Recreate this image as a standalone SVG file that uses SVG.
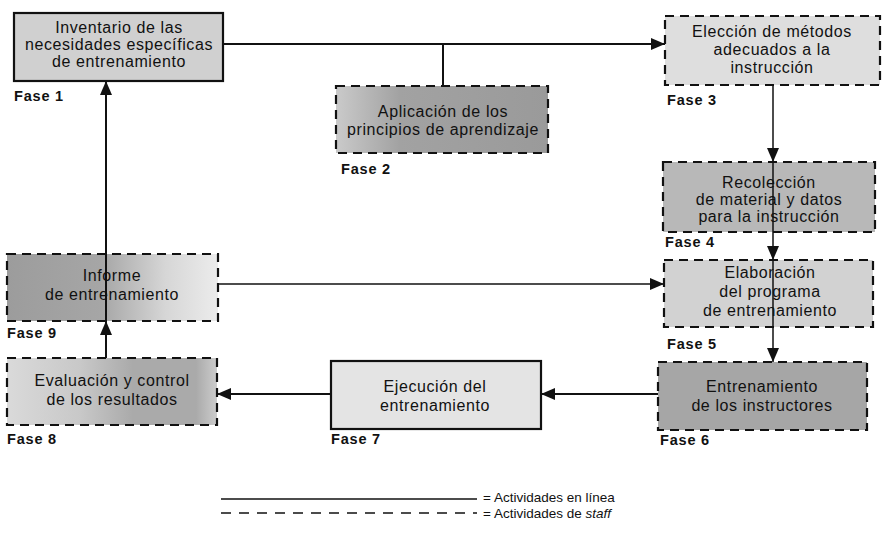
<svg xmlns="http://www.w3.org/2000/svg" width="889" height="535" viewBox="0 0 889 535">
<style>
.bg{fill:#ffffff}
.solid{stroke:#111;stroke-width:2.2}
.dash{stroke:#111;stroke-width:2.2;stroke-dasharray:9 6}
.t{font-family:"Liberation Sans",Arial,sans-serif;font-size:16px;letter-spacing:0.6px;fill:#111;text-anchor:middle}
.f{font-family:"Liberation Sans",Arial,sans-serif;font-size:14.5px;font-weight:bold;letter-spacing:0.8px;fill:#111}
.lg{font-family:"Liberation Sans",Arial,sans-serif;font-size:13.5px;fill:#111}
.c{stroke:#111;stroke-width:2;fill:none}
.c1{stroke:#111;stroke-width:1.5;fill:none}
</style>
<defs>
<marker id="ah" markerUnits="userSpaceOnUse" markerWidth="14" markerHeight="12" refX="14" refY="6" orient="auto">
<path d="M0,0 L14,6 L0,12 Z" fill="#111"/>
</marker>
<linearGradient id="g9" x1="0" y1="0" x2="1" y2="0">
<stop offset="0" stop-color="#9c9c9c"/>
<stop offset="0.45" stop-color="#a6a6a6"/>
<stop offset="0.75" stop-color="#d6d6d6"/>
<stop offset="1" stop-color="#ececec"/>
</linearGradient>
<linearGradient id="g8" x1="0" y1="0" x2="1" y2="0">
<stop offset="0" stop-color="#dadada"/>
<stop offset="0.35" stop-color="#c8c8c8"/>
<stop offset="0.6" stop-color="#aaaaaa"/>
<stop offset="0.9" stop-color="#aaaaaa"/>
<stop offset="1" stop-color="#cccccc"/>
</linearGradient>
<linearGradient id="g2" x1="0" y1="0" x2="1" y2="0">
<stop offset="0" stop-color="#cacaca"/>
<stop offset="0.3" stop-color="#a2a2a2"/>
<stop offset="1" stop-color="#9a9a9a"/>
</linearGradient>
</defs>
<rect class="bg" x="0" y="0" width="889" height="535"/>

<g id="fase1">
<rect class="solid" x="14" y="13" width="209" height="68" fill="#d0d0d0"/>
<text class="t" x="119" y="33">Inventario de las</text>
<text class="t" x="119" y="50">necesidades específicas</text>
<text class="t" x="119" y="67">de entrenamiento</text>
<text class="f" x="14" y="101">Fase 1</text>
</g>

<g id="fase2">
<rect class="dash" x="336" y="86" width="212" height="67" fill="url(#g2)"/>
<text class="t" x="443" y="117">Aplicación de los</text>
<text class="t" x="443" y="135">principios de aprendizaje</text>
<text class="f" x="341" y="174">Fase 2</text>
</g>

<g id="fase3">
<rect class="dash" x="665" y="16" width="215" height="69" fill="#dedede"/>
<text class="t" x="772" y="37">Elección de métodos</text>
<text class="t" x="772" y="55">adecuados a la</text>
<text class="t" x="772" y="73">instrucción</text>
<text class="f" x="667" y="105">Fase 3</text>
</g>

<g id="fase4">
<rect class="dash" x="663" y="162" width="212" height="70" fill="#b8b8b8"/>
<text class="t" x="769" y="188">Recolección</text>
<text class="t" x="769" y="205">de material y datos</text>
<text class="t" x="769" y="222">para la instrucción</text>
<text class="f" x="665" y="247">Fase 4</text>
</g>

<g id="fase5">
<rect class="dash" x="664" y="260" width="209" height="67" fill="#d2d2d2"/>
<text class="t" x="770" y="278">Elaboración</text>
<text class="t" x="770" y="297">del programa</text>
<text class="t" x="770" y="316">de entrenamiento</text>
<text class="f" x="667" y="349">Fase 5</text>
</g>

<g id="fase6">
<rect class="dash" x="658" y="362" width="209" height="68" fill="#a6a6a6"/>
<text class="t" x="762" y="392">Entrenamiento</text>
<text class="t" x="762" y="411">de los instructores</text>
<text class="f" x="660" y="445">Fase 6</text>
</g>

<g id="fase7">
<rect class="solid" x="331" y="361" width="210" height="68" fill="#e4e4e4"/>
<text class="t" x="435" y="392">Ejecución del</text>
<text class="t" x="435" y="411">entrenamiento</text>
<text class="f" x="331" y="444">Fase 7</text>
</g>

<g id="fase8">
<rect class="dash" x="7" y="358" width="210" height="67" fill="url(#g8)"/>
<text class="t" x="112" y="386">Evaluación y control</text>
<text class="t" x="112" y="405">de los resultados</text>
<text class="f" x="7" y="444">Fase 8</text>
</g>

<g id="fase9">
<rect class="dash" x="7" y="254" width="211" height="67" fill="url(#g9)"/>
<text class="t" x="112" y="281">Informe</text>
<text class="t" x="112" y="300">de entrenamiento</text>
<text class="f" x="7" y="338">Fase 9</text>
</g>

<g id="connectors">
<line class="c" x1="223" y1="44" x2="665" y2="44" marker-end="url(#ah)"/>
<line class="c" x1="443" y1="44" x2="443" y2="86"/>
<line class="c1" x1="773" y1="85" x2="773" y2="162" marker-end="url(#ah)"/>
<line class="c1" x1="773" y1="162" x2="773" y2="260" marker-end="url(#ah)"/>
<line class="c1" x1="773" y1="260" x2="773" y2="362" marker-end="url(#ah)"/>
<line class="c" x1="658" y1="394" x2="541" y2="394" marker-end="url(#ah)"/>
<line class="c" x1="331" y1="394" x2="217" y2="394" marker-end="url(#ah)"/>
<line class="c" x1="106" y1="358" x2="106" y2="321" marker-end="url(#ah)"/>
<line class="c" x1="106" y1="321" x2="106" y2="81" marker-end="url(#ah)"/>
<line class="c1" x1="218" y1="284" x2="664" y2="284" marker-end="url(#ah)"/>
</g>

<g id="legend">
<line class="c1" x1="221" y1="499" x2="477" y2="499"/>
<line class="c1" x1="221" y1="513" x2="477" y2="513" stroke-dasharray="10 8"/>
<text class="lg" x="483" y="502">= Actividades en línea</text>
<text class="lg" x="483" y="518">= Actividades de <tspan font-style="italic">staff</tspan></text>
</g>
</svg>
